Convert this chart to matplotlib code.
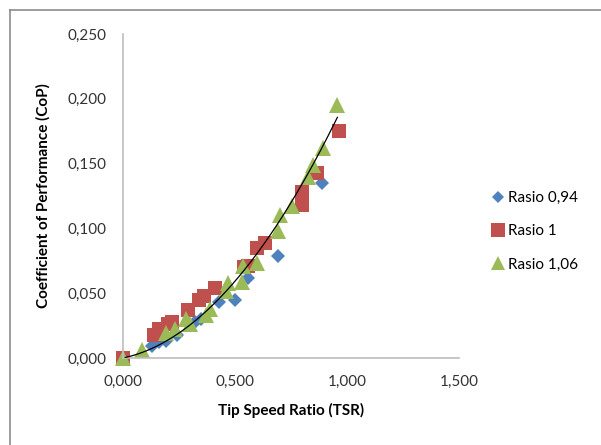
import numpy as np
import matplotlib
matplotlib.use("Agg")
import matplotlib.pyplot as plt
from matplotlib.lines import Line2D

plt.rcParams['font.family'] = ['Lato', 'DejaVu Sans']

# Rasio 0,94
tsr_094 = [0.0, 0.13, 0.16, 0.19, 0.24, 0.32, 0.35, 0.43, 0.50, 0.56, 0.69, 0.89]
cop_094 = [0.0, 0.009, 0.012, 0.013, 0.018, 0.028, 0.030, 0.043, 0.045, 0.062, 0.079, 0.135]

# Rasio 1
tsr_100 = [0.0, 0.14, 0.16, 0.20, 0.22, 0.29, 0.34, 0.36, 0.41, 0.54, 0.56,
           0.60, 0.635, 0.80, 0.80, 0.865, 0.965]
cop_100 = [0.0, 0.018, 0.022, 0.026, 0.028, 0.037, 0.045, 0.048, 0.054, 0.070, 0.071,
           0.085, 0.089, 0.118, 0.128, 0.143, 0.175]

# Rasio 1,06
tsr_106 = [0.0, 0.085, 0.19, 0.23, 0.28, 0.30, 0.37, 0.39, 0.46, 0.47, 0.53, 0.535,
           0.60, 0.69, 0.70, 0.755, 0.825, 0.85, 0.893, 0.957]
cop_106 = [0.0, 0.006, 0.019, 0.022, 0.030, 0.026, 0.033, 0.038, 0.052, 0.058, 0.059, 0.071,
           0.073, 0.098, 0.110, 0.117, 0.140, 0.149, 0.162, 0.195]

xticks = [0.0, 0.5, 1.0, 1.5]
yticks = [0.0, 0.05, 0.10, 0.15, 0.20, 0.25]
labels = ['Rasio 0,94', 'Rasio 1', 'Rasio 1,06']
colors = ['#4F81BD', '#C0504D', '#9BBB59']


def comma(v):
    return ('%.3f' % v).replace('.', ',')


fig = plt.figure(figsize=(6.01, 4.45), dpi=100)
ax = fig.add_axes([0.2047, 0.1955, 0.559, 0.728])

ax.plot(tsr_094, cop_094, 'D', ms=6.8, color=colors[0], mew=0, label=labels[0], clip_on=False)
ax.plot(tsr_100, cop_100, 's', ms=10.5, color=colors[1], mew=0, label=labels[1], clip_on=False)
ax.plot(tsr_106, cop_106, '^', ms=11.5, color=colors[2], mew=0, label=labels[2], clip_on=False)

# polynomial trend line (order 2, through origin) of the last series
x = np.array(tsr_106)
y = np.array(cop_106)
A = np.column_stack([x ** 2, x])
a, b = np.linalg.lstsq(A, y, rcond=None)[0]
xs = np.linspace(0.01, x.max(), 200)
ax.plot(xs, a * xs ** 2 + b * xs, color='black', lw=0.9, zorder=5)

ax.set_xlim(0, 1.5)
ax.set_ylim(0, 0.25)
ax.set_xticks(xticks)
ax.set_yticks(yticks)
ax.set_xticklabels([comma(v) for v in xticks])
ax.set_yticklabels([comma(v) for v in yticks])
ax.tick_params(length=0, labelsize=11, colors='#333333')
ax.tick_params(axis='y', pad=12)
ax.tick_params(axis='x', pad=12)
for s in ['top', 'right']:
    ax.spines[s].set_visible(False)
for s in ['left', 'bottom']:
    ax.spines[s].set_color('#BEBEBE')
    ax.spines[s].set_linewidth(1.2)

ax.set_xlabel('Tip Speed Ratio (TSR)', fontsize=11, fontweight='bold', labelpad=10)
ax.set_ylabel('Coefficient of Performance (CoP)', fontsize=11, fontweight='bold', labelpad=12)

handles = [Line2D([], [], marker='D', ls='', ms=6.5, color=colors[0], mew=0),
           Line2D([], [], marker='s', ls='', ms=10, color=colors[1], mew=0),
           Line2D([], [], marker='^', ls='', ms=10, color=colors[2], mew=0)]
fig.legend(handles, labels, loc='center left', bbox_to_anchor=(0.795, 0.48),
           frameon=False, fontsize=11, handlelength=0.8, handletextpad=0.3,
           labelspacing=1.25)

# chart border (only top and left edge fall inside the picture)
fig.add_artist(Line2D([10 / 601, 10 / 601], [0, 1 - 10 / 445], transform=fig.transFigure,
                      color='#8C8C8C', lw=1.2))
fig.add_artist(Line2D([10 / 601, 1], [1 - 10 / 445, 1 - 10 / 445], transform=fig.transFigure,
                      color='#8C8C8C', lw=1.2))

fig.savefig('out.png', dpi=100)
